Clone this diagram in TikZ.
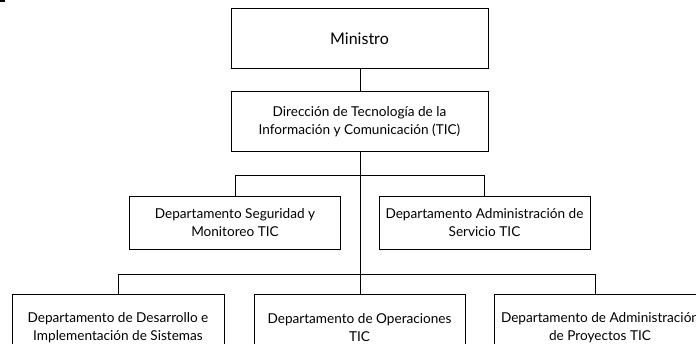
\documentclass[tikz,border=0pt]{standalone}
\usepackage{fontspec}
\setmainfont{Lato}
\begin{document}
\begin{tikzpicture}[x=1pt,y=-1pt,
  txt/.style={inner sep=0pt,align=center,font=\fontsize{13.6}{18}\selectfont},
  box/.style={draw=black,line width=1pt,fill=white,txt},
  link/.style={draw=black,line width=1pt}]
\useasboundingbox (0,0) rectangle (696,344);
\fill[black] (0,0) rectangle (5,2);
% level 0/1
\node[box,minimum width=257pt,minimum height=60pt,font=\fontsize{16}{18}\selectfont] (min) at (359.5,39) {Ministro};
\node[box,minimum width=257pt,minimum height=60pt] (dir) at (359.5,122) {Dirección de Tecnología de la\\Información y Comunicación (TIC)};
% level 2
\node[box,minimum width=211pt,minimum height=53pt] (seg) at (235,223) {Departamento Seguridad y\\Monitoreo TIC};
\node[box,minimum width=211pt,minimum height=53pt] (ser) at (484.5,223) {Departamento Administración de\\Servicio TIC};
% level 3
\node[box,minimum width=212pt,minimum height=60pt,anchor=north] (des) at (118,294) {};
\node[box,minimum width=211pt,minimum height=60pt,anchor=north] (ope) at (359.5,294) {};
\node[box,minimum width=216pt,minimum height=60pt,anchor=north west] (pro) at (494,294) {};
\node[txt] (desT) at (118,328) {Departamento de Desarrollo e\\Implementación de Sistemas};
\node[txt] (opeT) at (359.5,328) {Departamento de Operaciones\\TIC};
\node[txt] (proT) at (600,328) {Departamento de Administración\\de Proyectos TIC};
% coordinates
\coordinate (h1) at (360,176);
\coordinate (h2) at (360,275);
% connectors
\draw[link] (min.south -| h1) -- (dir.north -| h1);
\draw[link] (dir.south -| h1) -- (ope.north -| h1);
\draw[link] (seg.north) -- (seg.north |- h1) -- (ser.north |- h1) -- (ser.north);
\draw[link] (des.north) -- (des.north |- h2) -- (595,275) coordinate (h3) -- (pro.north -| h3);
\end{tikzpicture}
\end{document}
